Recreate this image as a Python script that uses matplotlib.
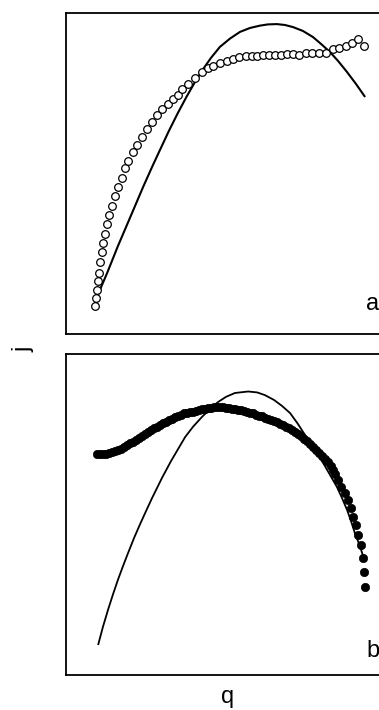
import matplotlib
matplotlib.use("Agg")
import matplotlib.pyplot as plt

plt.rcParams['font.family'] = ['Liberation Sans', 'DejaVu Sans']

# ---- panel a: open circles (measured) ----
qa_pts = [9.7, 10.0, 10.3, 10.7, 11.0, 11.3, 12.0, 12.3, 13.0, 13.7, 14.3, 15.3,
          16.3, 17.3, 18.7, 19.7, 20.7, 22.3, 23.7, 25.3, 27.0, 28.7, 30.3, 32.0,
          34.0, 35.7, 37.3, 38.7, 40.7, 43.0, 45.3, 47.3, 49.0, 51.3, 53.7, 55.7,
          57.7, 60.0, 62.0, 63.7, 65.7, 67.7, 69.7, 71.7, 73.7, 75.7, 77.7, 80.0,
          82.0, 84.3, 86.7, 89.0, 91.0, 93.3, 95.3, 97.3, 99.3]
ja_pts = [9.3, 12.0, 14.7, 17.7, 20.3, 24.0, 27.3, 30.3, 33.3, 36.7, 39.7, 42.7,
          46.0, 49.0, 52.0, 55.3, 57.7, 60.7, 63.0, 65.7, 68.3, 70.7, 73.0, 75.0,
          76.7, 78.3, 79.7, 81.7, 83.3, 85.3, 87.3, 88.7, 89.3, 90.3, 91.0, 91.7,
          92.3, 92.7, 92.7, 92.7, 93.0, 93.0, 93.0, 93.0, 93.3, 93.3, 93.0, 93.7,
          93.7, 93.7, 93.7, 95.0, 95.3, 96.0, 97.0, 98.3, 96.0]

# panel a: fitted curve
qa_fit = [9.7, 11.3, 13.7, 17.3, 22.0, 25.7, 28.7, 31.3, 34.3, 37.3, 40.3, 43.0,
          45.7, 48.3, 51.3, 54.7, 58.0, 61.3, 64.7, 67.3, 70.3, 73.0, 75.7, 79.0,
          82.3, 85.0, 88.0, 90.7, 93.7, 96.7, 99.7]
ja_fit = [10.3, 14.7, 20.3, 29.3, 40.3, 49.0, 55.7, 61.3, 67.7, 73.7, 79.3, 84.0,
          88.3, 92.0, 95.7, 98.5, 100.7, 102.0, 102.8, 103.2, 103.3, 103.0, 102.3, 101.0,
          99.0, 96.7, 94.0, 91.0, 87.3, 83.3, 79.0]

# ---- panel b: filled dots (measured) ----
qb_pts = [10.3, 11.3, 12.3, 13.3, 14.3, 15.3, 16.3, 17.3, 18.3, 19.3, 20.3, 21.3,
          22.3, 23.3, 24.3, 25.3, 26.3, 27.3, 28.3, 29.3, 30.3, 31.3, 32.3, 33.3,
          34.3, 35.3, 36.3, 37.3, 38.3, 39.3, 40.3, 41.3, 42.3, 43.3, 44.3, 45.3,
          46.3, 47.3, 48.3, 49.3, 50.3, 51.3, 52.3, 53.3, 54.3, 55.3, 56.3, 57.3,
          58.3, 59.3, 60.3, 61.3, 62.3, 63.3, 64.3, 65.3, 66.3, 67.3, 68.3, 69.3,
          70.3, 71.3, 72.3, 73.3, 74.3, 75.3, 76.3, 77.3, 78.3, 79.3, 80.3, 81.3,
          82.3, 83.3, 84.3, 85.3, 86.3, 87.3, 88.3,
          89.0, 89.7, 90.7, 91.7, 93.0, 94.0, 95.0, 95.7, 96.7, 97.3, 98.3, 99.0,
          99.3, 99.7]
jb_pts = [73.7, 73.7, 73.7, 73.8, 74.0, 74.3, 74.7, 75.0, 75.5, 76.0, 76.7, 77.2,
          77.7, 78.3, 79.0, 79.7, 80.3, 81.0, 81.7, 82.3, 82.8, 83.3, 84.0, 84.5,
          85.0, 85.5, 86.0, 86.5, 86.8, 87.2, 87.5, 87.7, 87.8, 88.0, 88.3, 88.7,
          88.8, 89.0, 89.0, 89.2, 89.2, 89.2, 89.2, 89.0, 89.0, 88.8, 88.7, 88.5,
          88.3, 88.0, 87.7, 87.5, 87.2, 86.8, 86.5, 86.2, 85.8, 85.5, 85.0, 84.7,
          84.3, 83.8, 83.3, 82.8, 82.3, 81.7, 81.0, 80.3, 79.7, 78.8, 78.0, 77.0,
          76.0, 75.0, 74.0, 73.0, 72.0, 71.0, 69.7,
          68.3, 67.0, 65.0, 62.7, 60.7, 58.3, 55.7, 52.7, 50.0, 46.7, 43.3, 39.0,
          34.3, 29.3]

# panel b: fitted curve
qb_fit = [10.7, 12.3, 14.0, 15.7, 17.3, 19.0, 20.7, 22.7, 24.7, 26.7, 28.7, 32.0,
          35.0, 39.7, 42.3, 45.3, 48.0, 50.7, 53.3, 56.3, 60.7, 63.7, 66.3, 69.3,
          72.0, 74.7, 77.3, 80.3, 83.0, 85.7, 88.0, 90.3, 92.0, 93.7, 95.0, 96.3,
          97.7, 98.7, 99.7]
jb_fit = [10.0, 16.0, 21.7, 27.0, 31.7, 36.3, 40.7, 45.7, 50.3, 54.7, 59.0, 65.7,
          71.3, 79.3, 82.7, 86.0, 88.7, 91.0, 92.7, 94.0, 94.5, 94.2, 93.3, 91.7,
          89.7, 87.3, 83.7, 79.0, 75.0, 70.7, 66.7, 62.7, 59.0, 55.0, 51.3, 47.3,
          43.7, 40.7, 37.7]

panel_labels = ["a", "b"]
x_label = "q"
y_label = "j"

W, H = 379, 710
fig = plt.figure(figsize=(W / 100, H / 100), dpi=100)
fig.patch.set_facecolor("white")

left = 66 / W
width = (384 - 66) / W
height = 321 / H
ax_a = fig.add_axes([left, (H - 334) / H, width, height])
ax_b = fig.add_axes([left, (H - 675) / H, width, height])

for ax in (ax_a, ax_b):
    ax.set_xlim(0, 106)
    ax.set_ylim(0, 107)
    ax.set_xticks([])
    ax.set_yticks([])
    for s in ax.spines.values():
        s.set_linewidth(1.3)
        s.set_color("black")
    ax.spines["right"].set_visible(False)

ax_a.plot(qa_fit, ja_fit, color="black", lw=1.5, solid_capstyle="butt",
          solid_joinstyle="round")
ax_a.plot(qa_pts, ja_pts, linestyle="none", marker="o", markersize=5.5,
          markerfacecolor="white", markeredgecolor="black", markeredgewidth=0.9)

ax_b.plot(qb_fit, jb_fit, color="black", lw=1.3, solid_capstyle="butt",
          solid_joinstyle="round")
ax_b.plot(qb_pts, jb_pts, linestyle="none", marker="o", markersize=6.0,
          markerfacecolor="black", markeredgecolor="black", markeredgewidth=0.5)

fs = 17
fig.text(372.5 / W, 1 - 310 / H, panel_labels[0], fontsize=fs, ha="center", va="baseline")
fig.text(373 / W, 1 - 657 / H, panel_labels[1], fontsize=fs, ha="center", va="baseline")
fig.text(228 / W, 1 - 703 / H, x_label, fontsize=fs, ha="center", va="baseline")
fig.text(24 / W, 1 - 349 / H, y_label, fontsize=fs, ha="center", va="center", rotation=90)

fig.savefig("out.png", dpi=100, facecolor="white")
